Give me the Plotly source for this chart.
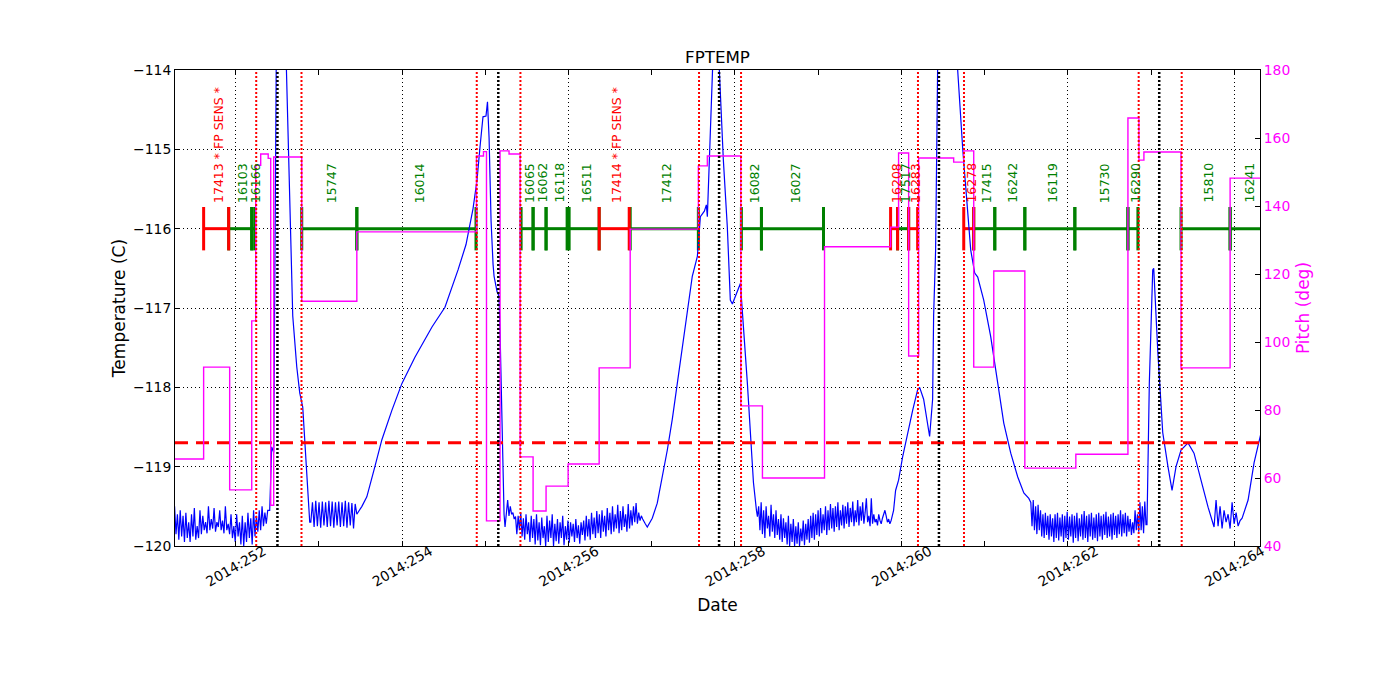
import numpy as np
import plotly.graph_objects as go

# ---------------- axes / ticks ----------------
x_range = [251.271, 264.309]
temp_range = [-120, -114]
pitch_range = [40, 180]
date_ticks = [252, 254, 256, 258, 260, 262, 264]
date_labels = ["2014:252", "2014:254", "2014:256", "2014:258", "2014:260", "2014:262", "2014:264"]
minor_ticks = [253, 255, 257, 259, 261, 263]
fptemp_limit = -118.7

# ---------------- FPTEMP (blue) ----------------
# noisy stretches: (start day, end day, values)
noise_a = [-119.5, -119.85, -119.6, -119.92, -119.55, -119.88, -119.62, -119.95, -119.58, -119.9,
           -119.7, -119.95, -119.6, -119.88, -119.52, -119.92, -119.75, -119.9, -119.55, -119.85,
           -119.62, -119.8, -119.7, -119.84, -119.5, -119.8, -119.66, -119.78, -119.52, -119.82,
           -119.7, -119.76, -119.55, -119.8, -119.68, -119.84, -119.5, -119.8, -119.72, -119.85,
           -119.6, -119.9, -119.75, -119.95, -119.6, -119.88, -119.7, -119.98, -119.62, -120.0,
           -119.7, -119.95, -119.58, -119.9, -119.65, -119.98, -119.55, -119.88, -119.62, -119.82,
           -119.55, -119.8, -119.5, -119.75, -119.58, -119.72, -119.55]
noise_b = [-119.7, -119.45, -119.76, -119.43, -119.75, -119.45, -119.77, -119.44, -119.74, -119.45,
           -119.76, -119.43, -119.75, -119.44, -119.77, -119.45, -119.74, -119.44, -119.76, -119.45,
           -119.75, -119.43, -119.77, -119.45, -119.74, -119.46, -119.78, -119.47, -119.6]
noise_c = [-119.76, -119.55, -119.42, -119.62, -119.5, -119.6, -119.58, -119.66, -119.63, -119.85,
           -119.62, -119.8, -119.58, -119.88, -119.65, -119.92, -119.6, -119.85, -119.7, -119.95,
           -119.62, -119.9, -119.66, -119.98, -119.6, -119.93, -119.7, -119.99, -119.64, -119.9,
           -119.75, -120.0, -119.62, -119.95, -119.68, -119.9, -119.6, -120.0, -119.72, -119.94,
           -119.66, -119.97, -119.7, -119.9, -119.62, -119.99, -119.75, -119.92, -119.68, -119.96,
           -119.7, -119.88, -119.72, -119.95, -119.66, -119.9, -119.74, -119.97, -119.7, -119.86,
           -119.68, -119.93, -119.62, -119.88, -119.66, -119.92, -119.58, -119.85, -119.64, -119.9,
           -119.56, -119.84, -119.6, -119.9, -119.55, -119.82, -119.62, -119.88, -119.52, -119.8,
           -119.58, -119.85, -119.5, -119.82, -119.6, -119.78, -119.48, -119.84, -119.56, -119.8,
           -119.5, -119.76, -119.6, -119.82, -119.47, -119.78, -119.55, -119.74, -119.5, -119.7,
           -119.46, -119.72, -119.58, -119.68, -119.62, -119.66, -119.7, -119.72]
noise_d = [-119.63, -119.5, -119.8, -119.45, -119.85, -119.55, -119.9, -119.5, -119.78, -119.62,
           -119.88, -119.48, -119.82, -119.6, -119.9, -119.55, -119.86, -119.66, -119.92, -119.6,
           -119.95, -119.65, -119.9, -119.7, -119.98, -119.62, -120.0, -119.72, -119.95, -119.66,
           -120.0, -119.75, -119.97, -119.7, -120.0, -119.78, -119.94, -119.68, -119.99, -119.72,
           -119.92, -119.66, -119.96, -119.62, -119.9, -119.58, -119.92, -119.6, -119.86, -119.55,
           -119.88, -119.52, -119.84, -119.6, -119.8, -119.5, -119.86, -119.55, -119.8, -119.47,
           -119.78, -119.52, -119.82, -119.5, -119.76, -119.45, -119.8, -119.55, -119.74, -119.48,
           -119.78, -119.5, -119.72, -119.45, -119.76, -119.52, -119.7, -119.44, -119.75, -119.55,
           -119.7, -119.42, -119.74, -119.5, -119.68, -119.45, -119.72, -119.58, -119.4, -119.7,
           -119.62, -119.75, -119.4, -119.72, -119.6, -119.7, -119.66, -119.74, -119.6, -119.68,
           -119.72, -119.65, -119.6, -119.55, -119.62, -119.7, -119.66, -119.72, -119.68, -119.6, -119.55]
noise_e = [-119.45, -119.75, -119.42, -119.8, -119.5, -119.85, -119.48, -119.8, -119.55, -119.88,
           -119.6, -119.9, -119.58, -119.86, -119.62, -119.92, -119.6, -119.88, -119.65, -119.95,
           -119.6, -119.9, -119.58, -119.93, -119.64, -119.88, -119.6, -119.95, -119.62, -119.9,
           -119.57, -119.92, -119.63, -119.88, -119.6, -119.96, -119.62, -119.9, -119.58, -119.94,
           -119.65, -119.88, -119.6, -119.92, -119.56, -119.9, -119.62, -119.95, -119.6, -119.88,
           -119.58, -119.92, -119.64, -119.9, -119.6, -119.94, -119.58, -119.88, -119.62, -119.92,
           -119.6, -119.86, -119.57, -119.9, -119.63, -119.88, -119.6, -119.92, -119.58, -119.86,
           -119.62, -119.9, -119.6, -119.85, -119.55, -119.88, -119.6, -119.84, -119.58, -119.88,
           -119.62, -119.82, -119.66, -119.86, -119.7, -119.84, -119.55, -119.8, -119.6, -119.82,
           -119.45, -119.8, -119.5, -119.84, -119.44, -119.73]
noise_f = [-119.76, -119.42, -119.75, -119.5, -119.78, -119.55, -119.7, -119.6, -119.78, -119.45,
           -119.72, -119.58, -119.75, -119.68]
noise_spans = [(251.266, 252.385), (252.903, 253.456), (255.237, 256.922),
               (258.270, 259.906), (261.555, 262.939), (263.757, 264.070)]

# smooth stretches (days, values)
smooth_1_days = [252.409, 252.433, 252.457, 252.487, 252.542, 252.610, 252.662, 252.686, 252.734,
                 252.770, 252.806, 252.842, 252.866, 252.890]
smooth_1_vals = [-119.55, -118.75, -118.82, -114.0, -111.5, -114.0, -116.27, -117.1, -117.74,
                 -118.07, -118.25, -118.9, -119.42, -119.7]
smooth_2_days = [253.468, 253.517, 253.576, 253.625, 253.673, 253.757, 253.877, 253.998, 254.154,
                 254.359, 254.515, 254.672, 254.768, 254.852, 254.900, 254.936, 254.972, 255.008,
                 255.026, 255.045, 255.069, 255.093, 255.105, 255.142, 255.165, 255.177, 255.213, 255.225]
smooth_2_vals = [-119.58, -119.5, -119.38, -119.2, -119.0, -118.66, -118.29, -117.95, -117.62,
                 -117.24, -116.99, -116.52, -116.2, -115.75, -115.39, -114.97, -114.59, -114.58,
                 -114.40, -114.85, -115.9, -116.45, -116.6, -116.8, -116.85, -117.3, -119.2, -119.6]
smooth_3_days = [256.946, 257.006, 257.066, 257.126, 257.187, 257.247, 257.307, 257.367, 257.427,
                 257.487, 257.548, 257.584, 257.632, 257.656, 257.668, 257.728, 257.764, 257.812,
                 257.860, 257.908, 257.944, 257.969, 258.065, 258.149, 258.222, 258.258]
smooth_3_vals = [-119.76, -119.65, -119.46, -119.15, -118.79, -118.4, -117.95, -117.5, -116.99,
                 -116.6, -116.35, -115.85, -115.78, -115.7, -115.85, -114.0, -113.0, -114.0,
                 -115.13, -115.98, -116.9, -116.95, -116.69, -117.95, -119.2, -119.55]
smooth_4_days = [259.930, 259.966, 260.014, 260.075, 260.135, 260.195, 260.219, 260.267, 260.315,
                 260.339, 260.375, 260.387, 260.411, 260.435, 260.544, 260.676, 260.737, 260.773,
                 260.833, 260.881, 260.917, 260.989, 261.073, 261.158, 261.230, 261.314, 261.398,
                 261.471, 261.531]
smooth_4_vals = [-119.3, -119.17, -118.88, -118.57, -118.29, -118.03, -118.0, -118.15, -118.44,
                 -118.62, -118.15, -117.1, -116.27, -114.0, -111.0, -114.0, -115.0, -115.5,
                 -116.27, -116.56, -116.61, -116.9, -117.36, -117.95, -118.45, -118.83, -119.13,
                 -119.33, -119.4]
smooth_5_days = [262.951, 262.979, 263.020, 263.032, 263.080, 263.140, 263.203, 263.252, 263.300,
                 263.360, 263.444, 263.516, 263.600, 263.685]
smooth_5_vals = [-119.73, -117.95, -116.52, -116.5, -117.53, -118.57, -119.0, -119.3, -119.0,
                 -118.79, -118.7, -118.83, -119.17, -119.51]
smooth_6_days = [264.094, 264.166, 264.238, 264.325]
smooth_6_vals = [-119.65, -119.42, -118.95, -118.56]

# ---------------- Pitch (magenta), step changes ----------------
pitch_days = [251.266, 251.615, 251.928, 252.193, 252.241, 252.301, 252.391, 252.421, 252.457,
              252.794, 253.456, 254.894, 254.978, 255.014, 255.177, 255.285, 255.418, 255.574,
              255.730, 255.995, 256.368, 256.741, 257.560, 257.668, 258.071, 258.330, 259.076,
              259.870, 259.966, 260.087, 260.207, 260.628, 260.749, 260.869, 261.110, 261.483,
              262.096, 262.722, 262.854, 262.914, 263.360, 263.950, 264.325]
pitch_vals = [65.6, 92.6, 56.5, 106.2, 152.0, 155.3, 154.0, 52.0, 154.4,
              112.0, 132.4, 154.7, 156.0, 47.4, 156.2, 155.3, 66.2, 50.3,
              57.6, 64.1, 92.4, 133.2, 151.8, 154.7, 81.2, 60.0, 128.0,
              133.8, 155.6, 95.9, 154.1, 152.9, 156.2, 92.6, 120.9, 62.9,
              67.0, 165.9, 153.5, 155.9, 92.4, 148.2, 148.2]

# ---------------- events ----------------
radzone_days = [252.247, 252.791, 254.897, 255.422, 257.568, 258.073, 260.199, 260.752, 262.851, 263.368]
perigee_days = [252.502, 255.156, 257.809, 260.451, 263.098]

# ---------------- observations ----------------
obs_names = ["17413 * FP SENS *", "16103", "16166", "15747", "16014", "16065", "16062", "16118",
             "16511", "17414 * FP SENS *", "17412", "16082", "16027", "16208", "17517", "16283",
             "16278", "17415", "16242", "16119", "15730", "16290", "15810", "16241"]
obs_start = [251.615, 251.916, 252.193, 252.794, 253.456, 255.430, 255.574, 255.730,
             256.007, 256.368, 256.741, 258.077, 258.318, 259.870, 259.954, 260.087,
             260.749, 260.869, 261.122, 261.483, 262.084, 262.722, 263.360, 263.950]
obs_stop = [251.916, 252.193, 252.229, 253.456, 254.888, 255.574, 255.730, 255.983,
            256.368, 256.729, 257.560, 258.318, 259.064, 259.954, 260.087, 260.195,
            260.869, 261.122, 261.483, 262.084, 262.722, 262.842, 263.950, 264.347]
obs_flag = [1, 0, 0, 0, 0, 0, 0, 0, 0, 1, 0, 0, 0, 1, 0, 1, 1, 0, 0, 0, 0, 0, 0, 0]
obs_level = -116.0
obs_label_level = -115.7

# ---------------- build ----------------
RED, GREEN, BLUE, MAG = "#ff0000", "#008000", "#0000ff", "#ff00ff"
FONT = "DejaVu Sans"

noises = [noise_a, noise_b, noise_c, noise_d, noise_e, noise_f]
smooths = [(smooth_1_days, smooth_1_vals), (smooth_2_days, smooth_2_vals),
           (smooth_3_days, smooth_3_vals), (smooth_4_days, smooth_4_vals),
           (smooth_5_days, smooth_5_vals), (smooth_6_days, smooth_6_vals)]
t_days, t_vals = [], []
for (s, e), nv, (sd, sv) in zip(noise_spans, noises, smooths):
    t_days += list(np.linspace(s, e, len(nv)))
    t_vals += nv
    t_days += sd
    t_vals += sv

fig = go.Figure()

# observation bars
for flag, col in [(0, GREEN), (1, RED)]:
    xs, ys = [], []
    for st, sp, f in zip(obs_start, obs_stop, obs_flag):
        if f == flag:
            xs += [st, sp, None]
            ys += [obs_level, obs_level, None]
    fig.add_trace(go.Scatter(
        x=xs, y=ys, mode="lines+markers", yaxis="y",
        line=dict(color=col, width=3),
        marker=dict(symbol="line-ns", size=31, color=col, line=dict(width=3, color=col)),
        showlegend=False, hoverinfo="skip"))

# FPTEMP
fig.add_trace(go.Scatter(x=t_days, y=t_vals, mode="lines", yaxis="y",
                         line=dict(color=BLUE, width=1.2), showlegend=False, name="FPTEMP"))

# limit line
fig.add_trace(go.Scatter(x=x_range, y=[fptemp_limit, fptemp_limit], mode="lines", yaxis="y",
                         line=dict(color=RED, width=3, dash="13px,8px"), showlegend=False))

# pitch
fig.add_trace(go.Scatter(x=pitch_days, y=pitch_vals, mode="lines", yaxis="y2",
                         line=dict(color=MAG, width=1.4, shape="hv"), showlegend=False, name="Pitch"))

shapes = []
for d in radzone_days:
    shapes.append(dict(type="line", xref="x", yref="paper", x0=d, x1=d, y0=0, y1=1,
                       line=dict(color=RED, width=2, dash="2px,2px"), layer="above"))
for d in perigee_days:
    shapes.append(dict(type="line", xref="x", yref="paper", x0=d, x1=d, y0=0, y1=1,
                       line=dict(color="black", width=2.5, dash="2px,2px"), layer="above"))

annotations = []
for name, st, sp, f in zip(obs_names, obs_start, obs_stop, obs_flag):
    annotations.append(dict(x=(st + sp) / 2, y=obs_label_level, xref="x", yref="y",
                            text=name, textangle=-90, showarrow=False,
                            xanchor="center", yanchor="bottom", xshift=3,
                            font=dict(family=FONT, size=12.5, color=RED if f else GREEN)))

# page body has an 8px margin: offset the plot margins accordingly
fig.update_layout(
    width=1400, height=700,
    paper_bgcolor="white", plot_bgcolor="white",
    margin=dict(l=167, r=148, t=62, b=162),
    font=dict(family=FONT, size=13.9, color="black"),
    title=dict(text="FPTEMP", x=0.5, xref="paper", y=1 - 49 / 700, yref="container",
               xanchor="center", yanchor="middle", font=dict(family=FONT, size=16.7, color="black")),
    shapes=shapes, annotations=annotations,
    xaxis=dict(range=x_range, tickmode="array", tickvals=date_ticks, ticktext=date_labels,
               tickangle=-30, ticks="inside", ticklen=5, tickcolor="black",
               showgrid=True, gridcolor="black", griddash="1px,3px", gridwidth=1,
               showline=True, linecolor="black", linewidth=1, mirror="ticks",
               zeroline=False, ticklabelshift=28, ticklabelstandoff=-9,
               minor=dict(tickmode="array", tickvals=minor_ticks, ticks="inside", ticklen=5,
                          tickcolor="black", showgrid=False),
               title=dict(text="Date", standoff=10)),
    yaxis=dict(range=temp_range, dtick=1, ticks="inside", ticklen=5, tickcolor="black",
               showgrid=True, gridcolor="black", griddash="1px,3px", gridwidth=1,
               showline=True, linecolor="black", linewidth=1, zeroline=False,
               title=dict(text="Temperature (C)", standoff=3)),
    yaxis2=dict(range=pitch_range, dtick=20, overlaying="y", side="right",
                ticks="inside", ticklen=5, tickcolor="black", showgrid=False,
                showline=True, linecolor="black", linewidth=1, zeroline=False,
                tickfont=dict(color=MAG),
                title=dict(text="Pitch (deg)", font=dict(color=MAG), standoff=7)),
)

fig.write_html("out.html")
